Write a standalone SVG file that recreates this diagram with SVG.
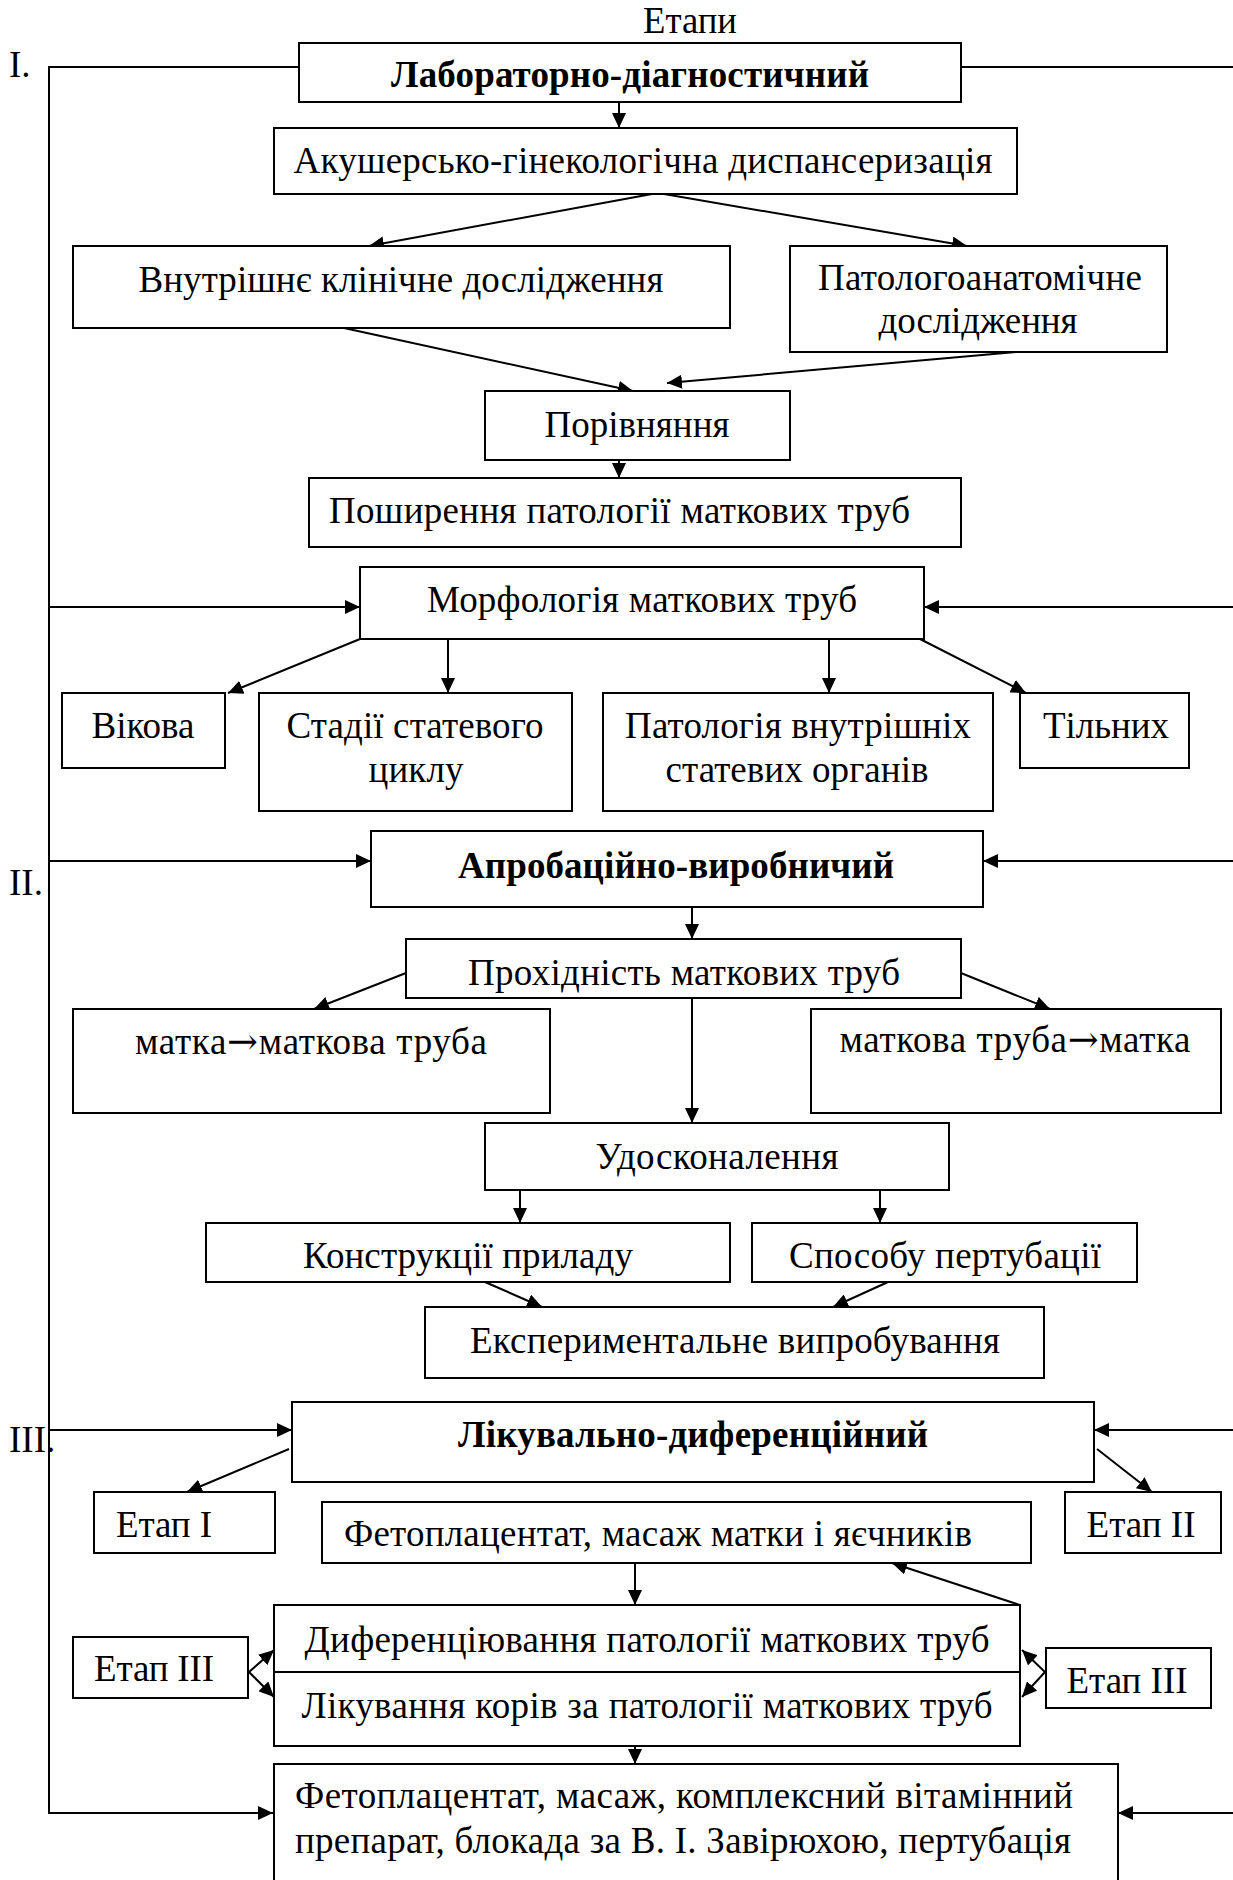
<svg xmlns="http://www.w3.org/2000/svg" width="1233" height="1880" viewBox="0 0 1233 1880">
<style>
  .box { fill: #fff; stroke: #000; stroke-width: 2; }
  .t { font-family: "Liberation Serif", "Times New Roman", serif; font-size: 37px; fill: #000; }
  .c { text-anchor: middle; }
  .b { font-weight: bold; }
  .arw { font-family: "DejaVu Serif", serif; }
  .ln { fill: none; stroke: #000; stroke-width: 2; }
  .ar { fill: none; stroke: #000; stroke-width: 2; marker-end: url(#ah); }
</style>
<defs>
  <marker id="ah" markerUnits="userSpaceOnUse" markerWidth="16" markerHeight="14" refX="15" refY="7" orient="auto">
    <path d="M0,0 L15,7 L0,14 Z" fill="#000"/>
  </marker>
</defs>
<rect width="1233" height="1880" fill="#fff"/>
<text class="t c" x="690" y="33" textLength="94" lengthAdjust="spacingAndGlyphs">Етапи</text>
<text class="t" x="9" y="77">I.</text>
<text class="t" x="9" y="895">II.</text>
<text class="t" x="9" y="1452">III.</text>

<g id="connectors">
  <polyline class="ar" points="299,67 49,67 49,1813 273,1813"/>
  <line class="ar" x1="49" y1="607" x2="360" y2="607"/>
  <line class="ar" x1="49" y1="861" x2="371" y2="861"/>
  <line class="ar" x1="49" y1="1430" x2="292" y2="1430"/>
  <line class="ln" x1="961" y1="67" x2="1233" y2="67"/>
  <line class="ar" x1="1233" y1="607" x2="924" y2="607"/>
  <line class="ar" x1="1233" y1="861" x2="983" y2="861"/>
  <line class="ar" x1="1233" y1="1430" x2="1094" y2="1430"/>
  <line class="ar" x1="1233" y1="1813" x2="1118" y2="1813"/>
  <line class="ar" x1="619" y1="102" x2="619" y2="128"/>
  <line class="ar" x1="652" y1="194" x2="369" y2="246"/>
  <line class="ar" x1="664" y1="194" x2="967" y2="246"/>
  <line class="ar" x1="344" y1="328" x2="633" y2="391"/>
  <line class="ar" x1="1016" y1="352" x2="667" y2="383"/>
  <line class="ar" x1="619" y1="460" x2="619" y2="478"/>
  <line class="ar" x1="360" y1="639" x2="228" y2="693"/>
  <line class="ar" x1="448" y1="639" x2="448" y2="693"/>
  <line class="ar" x1="829" y1="639" x2="829" y2="693"/>
  <line class="ar" x1="920" y1="639" x2="1026" y2="693"/>
  <line class="ar" x1="692" y1="907" x2="692" y2="939"/>
  <line class="ar" x1="406" y1="973" x2="314" y2="1009"/>
  <line class="ar" x1="961" y1="973" x2="1050" y2="1009"/>
  <line class="ar" x1="692" y1="998" x2="692" y2="1123"/>
  <line class="ar" x1="520" y1="1190" x2="520" y2="1223"/>
  <line class="ar" x1="880" y1="1190" x2="880" y2="1223"/>
  <line class="ar" x1="485" y1="1282" x2="542" y2="1307"/>
  <line class="ar" x1="888" y1="1282" x2="833" y2="1307"/>
  <line class="ar" x1="289" y1="1449" x2="187" y2="1492"/>
  <line class="ar" x1="1097" y1="1449" x2="1152" y2="1492"/>
  <line class="ar" x1="635" y1="1563" x2="635" y2="1605"/>
  <line class="ar" x1="1020" y1="1605" x2="892" y2="1563"/>
  <line class="ar" x1="249" y1="1672" x2="274" y2="1650"/>
  <line class="ar" x1="249" y1="1672" x2="274" y2="1697"/>
  <line class="ar" x1="1045" y1="1672" x2="1022" y2="1650"/>
  <line class="ar" x1="1045" y1="1672" x2="1022" y2="1697"/>
  <line class="ar" x1="635" y1="1746" x2="635" y2="1764"/>
</g>

<g id="n-lab"><rect class="box" x="299" y="43" width="662" height="59"/><text class="t c b" x="630" y="87" textLength="478">Лабораторно-діагностичний</text></g>
<g id="n-akush"><rect class="box" x="274" y="128" width="743" height="66"/><text class="t c" x="643" y="173" textLength="699">Акушерсько-гінекологічна диспансеризація</text></g>
<g id="n-vnutr"><rect class="box" x="73" y="246" width="657" height="82"/><text class="t c" x="401" y="292" textLength="525">Внутрішнє клінічне дослідження</text></g>
<g id="n-patanat"><rect class="box" x="790" y="246" width="377" height="106"/><text class="t c" x="980" y="290" textLength="324">Патологоанатомічне</text><text class="t c" x="978" y="333" textLength="199">дослідження</text></g>
<g id="n-porivn"><rect class="box" x="485" y="391" width="305" height="69"/><text class="t c" x="637" y="437" textLength="185">Порівняння</text></g>
<g id="n-poshyr"><rect class="box" x="309" y="478" width="652" height="69"/><text class="t" x="329" y="523" textLength="581">Поширення патології маткових труб</text></g>
<g id="n-morf"><rect class="box" x="360" y="567" width="564" height="72"/><text class="t c" x="642" y="612" textLength="430">Морфологія маткових труб</text></g>
<g id="n-vikova"><rect class="box" x="62" y="693" width="163" height="75"/><text class="t c" x="143" y="738" textLength="103">Вікова</text></g>
<g id="n-stadii"><rect class="box" x="259" y="693" width="313" height="118"/><text class="t c" x="415" y="738" textLength="257">Стадії статевого</text><text class="t c" x="416" y="782" textLength="95">циклу</text></g>
<g id="n-patol"><rect class="box" x="603" y="693" width="390" height="118"/><text class="t c" x="798" y="738" textLength="346">Патологія внутрішніх</text><text class="t c" x="797" y="782" textLength="263">статевих органів</text></g>
<g id="n-tilnyh"><rect class="box" x="1020" y="693" width="169" height="75"/><text class="t c" x="1106" y="738" textLength="126">Тільних</text></g>
<g id="n-aprob"><rect class="box" x="371" y="831" width="612" height="76"/><text class="t c b" x="676" y="878" textLength="436">Апробаційно-виробничий</text></g>
<g id="n-prohid"><rect class="box" x="406" y="939" width="555" height="59"/><text class="t c" x="684" y="985" textLength="432">Прохідність маткових труб</text></g>
<g id="n-matka1"><rect class="box" x="73" y="1009" width="477" height="104"/><text class="t c" x="311" y="1054" textLength="352">матка<tspan class="arw">→</tspan>маткова труба</text></g>
<g id="n-matka2"><rect class="box" x="811" y="1009" width="410" height="104"/><text class="t c" x="1015" y="1052" textLength="351">маткова труба<tspan class="arw">→</tspan>матка</text></g>
<g id="n-udoskon"><rect class="box" x="485" y="1123" width="464" height="67"/><text class="t c" x="717" y="1169" textLength="243">Удосконалення</text></g>
<g id="n-konstr"><rect class="box" x="206" y="1223" width="524" height="59"/><text class="t c" x="468" y="1268" textLength="330">Конструкції приладу</text></g>
<g id="n-sposob"><rect class="box" x="752" y="1223" width="385" height="59"/><text class="t c" x="945" y="1268" textLength="312">Способу пертубації</text></g>
<g id="n-eksper"><rect class="box" x="425" y="1307" width="619" height="71"/><text class="t c" x="735" y="1353" textLength="530">Експериментальне випробування</text></g>
<g id="n-likuv"><rect class="box" x="292" y="1402" width="802" height="80"/><text class="t c b" x="693" y="1447" textLength="470">Лікувально-диференційний</text></g>
<g id="n-etap1"><rect class="box" x="94" y="1492" width="181" height="61"/><text class="t c" x="164" y="1537" textLength="96">Етап I</text></g>
<g id="n-etap2"><rect class="box" x="1065" y="1492" width="156" height="61"/><text class="t c" x="1141" y="1537" textLength="109">Етап II</text></g>
<g id="n-fetopl1"><rect class="box" x="322" y="1502" width="709" height="61"/><text class="t" x="344" y="1546" textLength="628">Фетоплацентат, масаж матки і яєчників</text></g>
<g id="n-dyfer"><rect class="box" x="274" y="1605" width="746" height="67"/><text class="t c" x="647" y="1652" textLength="685">Диференціювання патології маткових труб</text></g>
<g id="n-likkor"><rect class="box" x="274" y="1672" width="746" height="74"/><text class="t c" x="647" y="1718" textLength="691">Лікування корів за патології маткових труб</text></g>
<g id="n-etap3l"><rect class="box" x="73" y="1637" width="175" height="61"/><text class="t c" x="154" y="1681" textLength="120">Етап III</text></g>
<g id="n-etap3r"><rect class="box" x="1046" y="1648" width="165" height="60"/><text class="t c" x="1127" y="1693" textLength="121">Етап III</text></g>
<g id="n-final"><rect class="box" x="274" y="1764" width="844" height="140"/><text class="t" x="295" y="1808" textLength="778">Фетоплацентат, масаж, комплексний  вітамінний</text><text class="t" x="295" y="1853" textLength="776">препарат, блокада за В. І. Завірюхою, пертубація</text></g>
</svg>
